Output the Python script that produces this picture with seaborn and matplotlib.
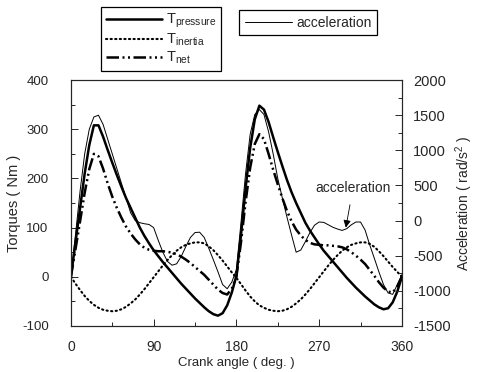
import numpy as np
import pandas as pd
import seaborn as sns
import matplotlib.pyplot as plt
from matplotlib.ticker import MultipleLocator

# crank angle samples (deg), every 5 degrees
angle = np.arange(0, 361, 5)

t_pressure = [0, 70, 140, 210, 268, 308, 308, 285, 258, 232, 207, 183, 160, 140, 120, 100,
              83, 68, 54, 42, 30, 19, 8, -3, -14, -24, -34, -44, -53, -62, -70, -76, -79,
              -74, -58, -32, 2, 85, 180, 262, 320, 348, 340, 315, 284, 254, 225, 197, 172,
              150, 130, 110, 94, 80, 66, 53, 42, 31, 20, 9, -2, -12, -22, -31, -40, -48,
              -56, -62, -66, -64, -52, -30, 0]

t_inertia = [0, -14, -27, -39, -49, -57, -63, -67, -69, -70, -69, -66, -61, -54, -46, -36,
             -25, -13, -1, 11, 23, 34, 44, 53, 60, 65, 68, 70, 70, 68, 62, 54, 44, 33, 21,
             9, -2, -15, -28, -40, -50, -58, -63, -67, -69, -70, -69, -66, -61, -54, -46,
             -36, -25, -13, -1, 11, 23, 34, 44, 53, 60, 65, 68, 70, 70, 67, 61, 52, 42, 31,
             20, 10, 0]

t_net = [0, 56, 113, 171, 219, 250, 245, 220, 190, 163, 140, 120, 102, 88, 76, 66, 59, 55,
         53, 52, 52, 51, 49, 46, 41, 35, 28, 20, 12, 4, -6, -16, -26, -33, -36, -24, 0, 70,
         152, 222, 270, 290, 280, 250, 218, 188, 160, 134, 113, 96, 84, 75, 69, 66, 65, 64,
         64, 63, 62, 60, 56, 50, 43, 35, 26, 14, 2, -11, -22, -30, -32, -20, 0]

acceleration = [-800, -200, 420, 950, 1300, 1475, 1500, 1370, 1160, 950, 740, 530, 320, 110,
                0, -30, -45, -55, -100, -280, -450, -580, -635, -615, -510, -370, -240, -170,
                -165, -240, -395, -560, -730, -910, -970, -875, -700, -30, 670, 1230, 1510,
                1580, 1510, 1265, 950, 600, 320, 50, -205, -450, -420, -300, -170, -65, -20,
                -25, -60, -95, -120, -140, -115, -60, -20, -20, -135, -345, -535, -730, -910,
                -1030, -1050, -910, -770]

df = pd.DataFrame({"angle": angle, "pressure": t_pressure, "inertia": t_inertia,
                   "net": t_net, "acc": acceleration})

sns.set_style("ticks")
plt.rcParams["font.family"] = ["Liberation Sans", "DejaVu Sans"]
plt.rcParams["mathtext.default"] = "regular"
plt.rcParams["axes.unicode_minus"] = False
plt.rcParams["axes.linewidth"] = 0.8

fig = plt.figure(figsize=(4.79, 3.72), dpi=100)
ax = fig.add_axes([0.148, 0.1237, 0.691, 0.661])
ax2 = ax.twinx()

sns.lineplot(data=df, x="angle", y="pressure", ax=ax, color="black", lw=1.8)
sns.lineplot(data=df, x="angle", y="inertia", ax=ax, color="black", lw=1.5,
             linestyle=(0, (0.6, 1.6)), dash_capstyle="round")
sns.lineplot(data=df, x="angle", y="net", ax=ax, color="black", lw=1.8,
             linestyle=(0, (5, 1.4, 0.8, 1.4, 0.8, 1.4)))
sns.lineplot(data=df, x="angle", y="acc", ax=ax2, color="black", lw=0.7)
h_p, h_i, h_n = ax.lines[:3]
h_a = ax2.lines[0]

ax.set_xlim(0, 360)
ax.set_ylim(-100, 400)
ax2.set_ylim(-1500, 2000)
ax.xaxis.set_major_locator(MultipleLocator(90))
ax.xaxis.set_minor_locator(MultipleLocator(45))
ax.yaxis.set_major_locator(MultipleLocator(100))
ax.yaxis.set_minor_locator(MultipleLocator(50))
ax2.yaxis.set_major_locator(MultipleLocator(500))
ax2.yaxis.set_minor_locator(MultipleLocator(250))

ax.tick_params(axis="both", which="both", direction="in", width=0.7)
ax.tick_params(axis="both", which="major", length=5)
ax.tick_params(axis="both", which="minor", length=3)
ax.tick_params(axis="y", pad=16, labelsize=9.5)
ax.tick_params(axis="x", pad=10, labelsize=10)
ax2.tick_params(axis="y", which="both", direction="in", labelsize=10.5, width=0.7, pad=8)
ax2.tick_params(axis="y", which="major", length=5)
ax2.tick_params(axis="y", which="minor", length=3)

ax.set_xlabel("Crank angle ( deg. )", fontsize=9.5, labelpad=2)
ax.set_ylabel("Torques ( Nm )", fontsize=10.5, labelpad=1)
ax2.set_ylabel("Acceleration ( rad/s$^2$ )", fontsize=10, labelpad=2)

ax2.annotate("acceleration", xy=(299, -100), xytext=(307, 470),
             ha="center", va="center", fontsize=10,
             arrowprops=dict(arrowstyle="-|>", color="black", lw=0.6,
                             mutation_scale=11, shrinkA=5, shrinkB=0))

leg_kw = dict(loc="upper left", frameon=True, fancybox=False,
              edgecolor="black", framealpha=1, borderaxespad=0, handletextpad=0.3)
leg1 = fig.legend([h_p, h_i, h_n],
                  ["T$_{pressure}$", "T$_{inertia}$", "T$_{net}$"],
                  bbox_to_anchor=(0.211, 0.981), handlelength=3.8, fontsize=10.5,
                  labelspacing=0.1, borderpad=0.35, **leg_kw)
leg2 = fig.legend([h_a], ["acceleration"], bbox_to_anchor=(0.499, 0.973),
                  handlelength=3.4, fontsize=10, borderpad=0.4, **leg_kw)
for lg in (leg1, leg2):
    lg.get_frame().set_linewidth(0.9)

fig.savefig("out.png", dpi=100)
